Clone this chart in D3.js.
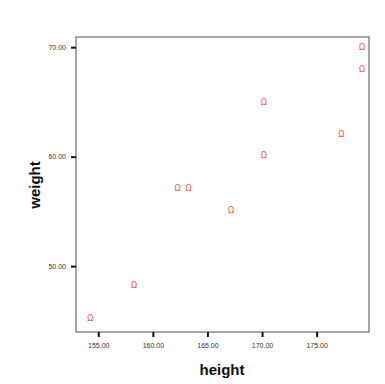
<!DOCTYPE html>
<html><head><meta charset="utf-8">
<script src="https://cdn.jsdelivr.net/npm/d3@7"></script>
<style>body{margin:0;background:#fff}</style>
</head><body>
<script>
const heights = [154.2, 158.2, 162.2, 163.2, 167.1, 170.1, 170.1, 177.2, 179.1, 179.1];
const weights = [45.3, 48.3, 57.2, 57.2, 55.2, 65.1, 60.2, 62.1, 70.1, 68.1];
const xTicks = [155, 160, 165, 170, 175];
const yTicks = [50, 60, 70];

const W = 385, H = 384;
const svg = d3.select("body").append("svg").attr("width", W).attr("height", H);
const L = 76, R = 369, T = 37, B = 332;
const x = d3.scaleLinear().domain([152.96, 179.8]).range([L, R]);
const y = d3.scaleLinear().domain([43.98, 70.93]).range([B, T]);

svg.append("rect").attr("x", L).attr("y", T).attr("width", R - L).attr("height", B - T)
  .attr("fill", "#fff").attr("stroke", "#7d7373").attr("stroke-width", 1.3);

const xa = svg.append("g").attr("transform", `translate(0,${B})`)
  .call(d3.axisBottom(x).tickValues(xTicks).tickSize(5).tickPadding(6).tickFormat(d3.format(".2f")));
const ya = svg.append("g").attr("transform", `translate(${L},0)`)
  .call(d3.axisLeft(y).tickValues(yTicks).tickSize(5).tickPadding(5).tickFormat(d3.format(".2f")));
[xa, ya].forEach(a => {
  a.select(".domain").remove();
  a.selectAll(".tick line").attr("stroke", "#111").attr("stroke-width", 2);
  a.selectAll(".tick text").attr("font-family", "Arial, 'Liberation Sans', sans-serif")
    .attr("font-size", 7).attr("fill", "#333");
});

svg.append("g").attr("transform", "translate(0.8,1.2)")
  .selectAll("text").data(heights).join("text")
  .attr("x", (d) => x(d)).attr("y", (d, i) => y(weights[i]))
  .attr("text-anchor", "middle").attr("dominant-baseline", "central")
  .attr("font-family", "'DejaVu Sans', sans-serif").attr("font-size", 8)
  .attr("fill", "#ec5446").text("Ω");

svg.append("text").attr("x", 222).attr("y", 375).attr("text-anchor", "middle")
  .attr("font-family", "Arial, 'Liberation Sans', sans-serif").attr("font-weight", "bold")
  .attr("font-size", 15).attr("fill", "#111").text("height");
svg.append("text").attr("transform", "translate(40,185) rotate(-90)").attr("text-anchor", "middle")
  .attr("font-family", "Arial, 'Liberation Sans', sans-serif").attr("font-weight", "bold")
  .attr("font-size", 15).attr("fill", "#111").text("weight");
</script>
</body></html>
